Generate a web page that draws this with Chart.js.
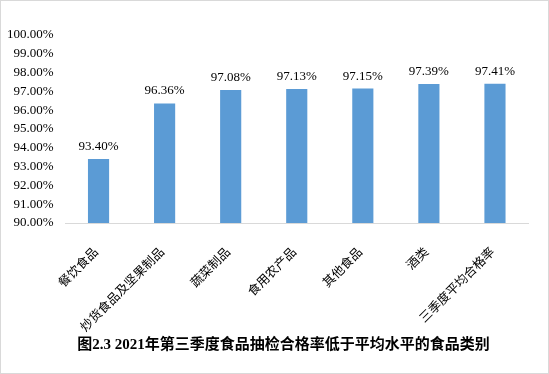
<!DOCTYPE html>
<html>
<head>
<meta charset="utf-8">
<script src="https://cdn.jsdelivr.net/npm/chart.js@4.4.0/dist/chart.umd.min.js"></script>
<style>
  body { margin: 0; background: #fff; }
  #wrap { width: 549px; height: 374px; box-sizing: border-box; border: 1px solid #d9d9d9; }
  canvas { display: block; }
</style>
</head>
<body>
<div id="wrap"><canvas id="chart-area" width="547" height="372"></canvas></div>
<script>
// data
var categories = ['餐饮食品', '炒货食品及坚果制品', '蔬菜制品', '食用农产品', '其他食品', '酒类', '三季度平均合格率'];
var passRates = [93.40, 96.36, 97.08, 97.13, 97.15, 97.39, 97.41];
var yTicks = [90, 91, 92, 93, 94, 95, 96, 97, 98, 99, 100];
var chartTitle = '图2.3 2021年第三季度食品抽检合格率低于平均水平的食品类别';

//draw the value over each bar
var barLabels = {
    id: 'barLabels',
    afterLayout: function (chart) {
        // title sits a bit right of the canvas centre in the original
        if (chart.titleBlock) {
            chart.titleBlock.left += 18;
            chart.titleBlock.right += 18;
        }
    },
    afterDatasetsDraw: function (chart) {
        var ctx = chart.ctx;
        var meta = chart.getDatasetMeta(0);
        ctx.save();
        ctx.font = '13px "Liberation Serif", "Times New Roman", serif';
        ctx.fillStyle = '#000';
        ctx.textAlign = 'center';
        ctx.textBaseline = 'bottom';
        meta.data.forEach(function (bar, i) {
            ctx.fillText(passRates[i].toFixed(2) + '%', bar.x, bar.y - 6);
        });
        ctx.restore();
    }
};

var config = {
    type: 'bar',
    data: {
        labels: categories,
        datasets: [{
            data: passRates,
            backgroundColor: '#5b9bd5',
            barPercentage: 0.32,
            categoryPercentage: 1
        }]
    },
    options: {
        responsive: false,
        animation: false,
        layout: { padding: { left: 2, right: 20, top: 34, bottom: 19 } },
        plugins: {
            legend: { display: false },
            tooltip: { enabled: false },
            title: {
                display: true,
                position: 'bottom',
                text: chartTitle,
                color: '#000',
                font: { family: '"Liberation Serif", "Noto Sans CJK SC", serif', size: 15, weight: 'bold', lineHeight: 1.2 },
                padding: 0
            }
        },
        scales: {
            x: {
                grid: { display: false },
                border: { display: true, color: '#d9d9d9', width: 1 },
                ticks: {
                    color: '#000',
                    minRotation: 45,
                    maxRotation: 45,
                    autoSkip: false,
                    padding: 13,
                    labelOffset: -3,
                    font: { family: '"Noto Sans CJK SC", sans-serif', size: 12.5 }
                },
                afterFit: function (scale) { scale.height = 113; }
            },
            y: {
                min: 90,
                max: 100,
                grid: { display: false },
                border: { display: false },
                afterBuildTicks: function (scale) {
                    scale.ticks = yTicks.map(function (v) { return { value: v }; });
                },
                ticks: {
                    color: '#000',
                    padding: 4,
                    font: { family: '"Liberation Serif", "Times New Roman", serif', size: 13 },
                    callback: function (v) { return v.toFixed(2) + '%'; }
                },
                afterFit: function (scale) { scale.width = 62.5; }
            }
        }
    },
    plugins: [barLabels]
};

var ctx = document.getElementById('chart-area').getContext('2d');
var myBar = new Chart(ctx, config);
</script>
</body>
</html>
